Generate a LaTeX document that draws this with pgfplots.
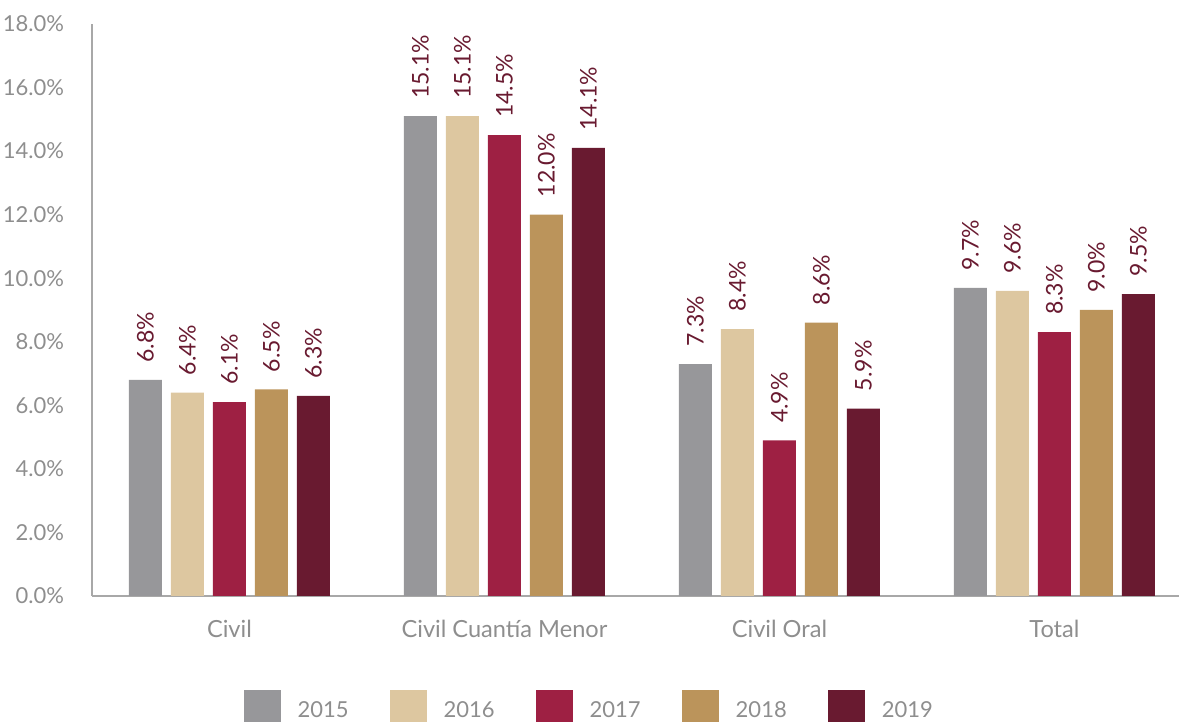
\documentclass[border=0pt]{standalone}
\usepackage{fontspec}
\setmainfont{Lato}
\usepackage{pgfplots}
\pgfplotsset{compat=1.18}

\definecolor{c15}{HTML}{97979A}
\definecolor{c16}{HTML}{DDC7A0}
\definecolor{c17}{HTML}{9E2043}
\definecolor{c18}{HTML}{BB945B}
\definecolor{c19}{HTML}{691A30}
\definecolor{axgray}{HTML}{A8A8A8}
\definecolor{txtgray}{HTML}{8E8E8E}

\begin{document}
\begin{tikzpicture}
\begin{axis}[
    name=ax,
    scale only axis,
    width=543.5pt,
    height=286pt,
    ybar=4.5pt,
    bar width=16.5pt,
    xmin=-0.5, xmax=3.453,
    ymin=0, ymax=18,
    axis x line*=bottom,
    axis y line*=left,
    axis line style={axgray, line width=0.8pt, -},
    xtick={0,1,2,3},
    xticklabels={Civil, Civil Cuantía Menor, Civil Oral, Total},
    ytick={0,2,...,18},
    major tick length=0pt,
    tick label style={txtgray, font=\fontsize{11}{13}\selectfont},
    /pgf/number format/assume math mode=true,
    yticklabel={\pgfmathprintnumber[fixed,fixed zerofill,precision=1]{\tick}\%},
    yticklabel style={xshift=-10.5pt},
    xticklabel style={yshift=-8.5pt, font=\fontsize{11.8}{14}\selectfont},
    point meta=y,
    nodes near coords={\pgfmathprintnumber[fixed,fixed zerofill,precision=1]{\pgfplotspointmeta}\%},
    nodes near coords style={rotate=90, anchor=west, text=c19, inner xsep=8.5pt, inner ysep=0pt,
        font=\fontsize{11.5}{13}\selectfont},
    legend columns=5,
    legend style={draw=none, fill=none, inner sep=0pt,
        at={(0.4565,-0.164)}, anchor=north,
        font=\fontsize{11}{13}\selectfont, text=txtgray,
        nodes={inner sep=0pt},
        /tikz/every even column/.append style={column sep=20.5pt}},
    legend image code/.code={\fill[#1] (0pt,-8pt) rectangle (18.5pt,10.5pt); \path[draw=none,fill=none] (0pt,0pt) -- (27pt,0pt);},
]
\addplot[fill=c15, draw=none] coordinates {(0,6.8) (1,15.1) (2,7.3) (3,9.7)};
\addlegendentry{2015}
\addplot[fill=c16, draw=none] coordinates {(0,6.4) (1,15.1) (2,8.4) (3,9.6)};
\addlegendentry{2016}
\addplot[fill=c17, draw=none] coordinates {(0,6.1) (1,14.5) (2,4.9) (3,8.3)};
\addlegendentry{2017}
\addplot[fill=c18, draw=none] coordinates {(0,6.5) (1,12.0) (2,8.6) (3,9.0)};
\addlegendentry{2018}
\addplot[fill=c19, draw=none] coordinates {(0,6.3) (1,14.1) (2,5.9) (3,9.5)};
\addlegendentry{2019}
\end{axis}
\pgfresetboundingbox
\path[use as bounding box] ([xshift=-46pt,yshift=-63pt]ax.south west) rectangle ([yshift=12pt]ax.north east);
\end{tikzpicture}
\end{document}
